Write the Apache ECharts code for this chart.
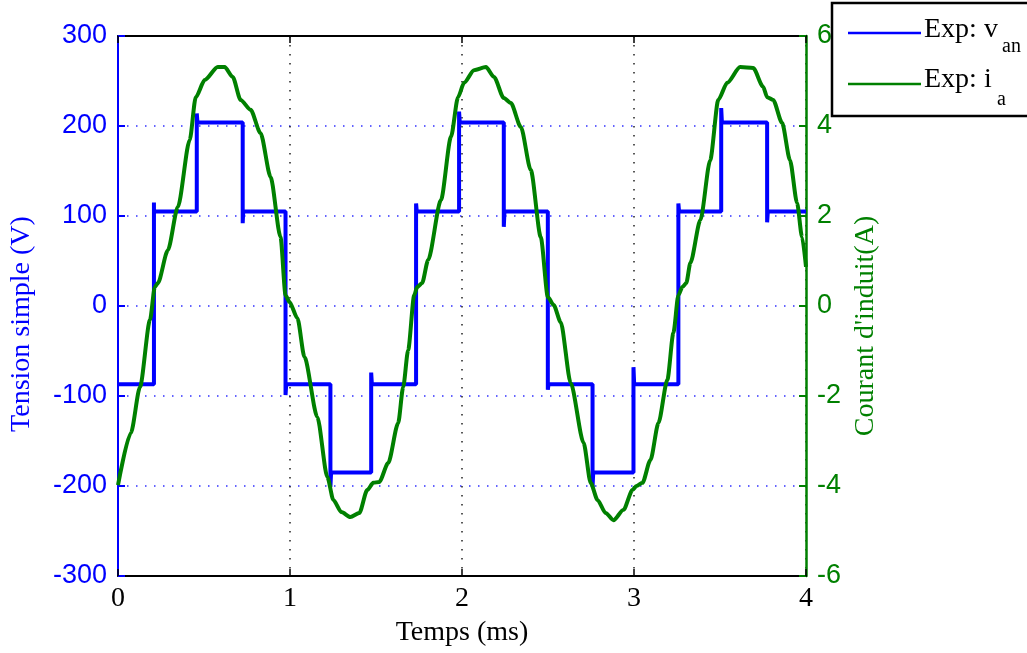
<!DOCTYPE html>
<html>
<head>
<meta charset="utf-8">
<script src="https://cdn.jsdelivr.net/npm/echarts@6/dist/echarts.min.js"></script>
<style>
html,body{margin:0;padding:0;background:#fff;}
#chart{width:1027px;height:653px;}
</style>
</head>
<body>
<div id="chart"></div>
<script>
// Time ticks (ms)
const xTicks = [0, 1, 2, 3, 4];

// Measured phase voltage v_an (V): time (ms) and value
const vTime = [0, 0.209, 0.209, 0.209, 0.458, 0.458, 0.462, 0.725, 0.725, 0.728,
  0.974, 0.974, 0.978, 1.235, 1.235, 1.239, 1.472, 1.472, 1.476, 1.733, 1.733, 1.737,
  1.983, 1.983, 1.987, 2.243, 2.243, 2.247, 2.499, 2.499, 2.503, 2.759, 2.759, 2.763,
  2.997, 2.997, 3.001, 3.258, 3.258, 3.262, 3.507, 3.507, 3.511, 3.774, 3.774, 3.778, 4.0];
const vVolt = [-87, -87, 115, 105, 105, 214, 204, 204, 92, 105,
  105, -99, -87, -87, -201, -185, -185, -74, -87, -87, 114, 105,
  105, 216, 204, 204, 88, 105, 105, -93, -87, -87, -201, -185,
  -185, -68, -87, -87, 114, 105, 105, 220, 204, 204, 93, 105, 105];

// Measured armature current i_a (A): time (ms) and value
const iTime = [0, 0.075, 0.128, 0.186, 0.214, 0.232, 0.29, 0.348, 0.417, 0.452, 0.504, 0.58, 0.62,
  0.667, 0.713, 0.771, 0.829, 0.887, 0.945, 0.974, 0.997, 1.043, 1.084, 1.159, 1.217, 1.252,
  1.299, 1.351, 1.403, 1.449, 1.484, 1.519, 1.571, 1.629, 1.658, 1.687, 1.722, 1.739, 1.768,
  1.803, 1.878, 1.936, 1.977, 2.012, 2.07, 2.139, 2.186, 2.243, 2.284, 2.342, 2.4, 2.458,
  2.499, 2.533, 2.574, 2.632, 2.707, 2.748, 2.788, 2.835, 2.881, 2.939, 2.991, 3.014, 3.049,
  3.096, 3.142, 3.194, 3.229, 3.258, 3.281, 3.304, 3.328, 3.386, 3.443, 3.49, 3.542, 3.617,
  3.693, 3.751, 3.774, 3.809, 3.861, 3.907, 3.948, 3.977, 4.0];
const iAmp = [-3.98, -2.82, -1.8, -0.31, 0.42, 0.51, 1.24, 2.2, 3.69, 4.64, 5.02, 5.31, 5.31,
  5.09, 4.58, 4.36, 3.84, 2.87, 1.53, 0.24, 0.09, -0.27, -1.13, -2.47, -3.8, -4.31,
  -4.58, -4.69, -4.6, -4.09, -3.93, -3.91, -3.49, -2.6, -1.8, -0.98, 0.24, 0.42, 0.51,
  1.02, 2.36, 3.76, 4.64, 4.96, 5.24, 5.31, 5.09, 4.62, 4.51, 3.98, 3.02, 1.53,
  0.2, 0.02, -0.36, -1.71, -3.04, -3.93, -4.31, -4.6, -4.76, -4.53, -4.09, -4.0, -3.93,
  -3.42, -2.6, -1.64, -0.6, 0.24, 0.42, 0.51, 0.96, 1.91, 3.24, 4.58, 4.96, 5.31,
  5.29, 4.87, 4.64, 4.58, 4.07, 3.24, 2.29, 1.53, 0.87];

const legendNames = ['Exp: v', 'Exp: i'];
const legendSubs = ['an', 'a'];

const vData = vTime.map((t, k) => [t, vVolt[k]]);
const iData = iTime.map((t, k) => [t, iAmp[k]]);

const BLUE = '#0000ff';
const GREEN = '#008000';
const SERIF = '"Liberation Serif", "Times New Roman", serif';
const SANS = '"Liberation Sans", Arial, sans-serif';

const chart = echarts.init(document.getElementById('chart'), null, {renderer: 'canvas'});
chart.setOption({
  animation: false,
  backgroundColor: '#fff',
  grid: {left: 116, right: 221, top: 36, bottom: 77, containLabel: false},
  xAxis: [{
    type: 'value', min: 0, max: 4, interval: 1, position: 'bottom',
    name: 'Temps (ms)', nameLocation: 'middle', nameGap: 43,
    nameTextStyle: {fontFamily: SERIF, fontSize: 28, color: '#000'},
    axisLine: {onZero: false, lineStyle: {color: '#000', width: 2}},
    axisTick: {inside: true, length: 7, lineStyle: {color: '#000', width: 1.5}},
    axisLabel: {fontFamily: SERIF, fontSize: 28, color: '#000', margin: 9,
      formatter: v => xTicks.includes(v) ? String(v) : ''},
    splitLine: {show: true, lineStyle: {color: '#222', width: 1.5, type: [1.5, 7.5]}}
  }, {
    type: 'value', min: 0, max: 4, interval: 1, position: 'top',
    axisLine: {onZero: false, lineStyle: {color: '#000', width: 2}},
    axisTick: {inside: true, length: 7, lineStyle: {color: '#000', width: 1.5}},
    axisLabel: {show: false},
    splitLine: {show: false}
  }],
  yAxis: [{
    type: 'value', min: -300, max: 300, interval: 100, position: 'left',
    name: 'Tension simple (V)', nameLocation: 'middle', nameGap: 82,
    nameTextStyle: {fontFamily: SERIF, fontSize: 28, color: BLUE, padding: [0, 36, 0, 0]},
    axisLine: {onZero: false, lineStyle: {color: BLUE, width: 2}},
    axisTick: {inside: true, length: 7, lineStyle: {color: BLUE, width: 2}},
    axisLabel: {fontFamily: SANS, fontSize: 27, color: BLUE, margin: 11, padding: [6, 0, 0, 0]},
    splitLine: {show: true, lineStyle: {color: '#3030ff', width: 1.5, type: [1.5, 7.5]}}
  }, {
    type: 'value', min: -6, max: 6, interval: 2, position: 'right',
    name: "Courant d'induit(A)", nameLocation: 'middle', nameGap: 42,
    nameTextStyle: {fontFamily: SERIF, fontSize: 28, color: GREEN, padding: [0, 40, 0, 0]},
    axisLine: {onZero: false, lineStyle: {color: GREEN, width: 2.5}},
    axisTick: {inside: true, length: 7, lineStyle: {color: GREEN, width: 2}},
    axisLabel: {fontFamily: SANS, fontSize: 27, color: GREEN, margin: 11, padding: [6, 0, 0, 0]},
    splitLine: {show: false}
  }],
  series: [{
    name: 'v_an', type: 'line', xAxisIndex: 0, yAxisIndex: 0, data: vData,
    showSymbol: false, symbol: 'none', z: 3,
    lineStyle: {color: BLUE, width: 4}
  }, {
    name: 'i_a', type: 'line', xAxisIndex: 0, yAxisIndex: 1, data: iData,
    showSymbol: false, symbol: 'none', z: 4, smooth: 0.25, smoothMonotone: 'x',
    lineStyle: {color: GREEN, width: 4}
  }],
  graphic: [
    {type: 'rect', z: 100, shape: {x: 832, y: 3, width: 220, height: 113},
      style: {fill: '#fff', stroke: '#000', lineWidth: 2.5}},
    {type: 'line', z: 101, shape: {x1: 848, y1: 33, x2: 921, y2: 33},
      style: {stroke: BLUE, lineWidth: 2.5}},
    {type: 'line', z: 101, shape: {x1: 848, y1: 84, x2: 921, y2: 84},
      style: {stroke: GREEN, lineWidth: 2.5}},
    {type: 'text', z: 101, x: 924, y: 30,
      style: {text: legendNames[0], fontFamily: SERIF, fontSize: 28, fill: '#000', align: 'left', verticalAlign: 'middle'}},
    {type: 'text', z: 101, x: 1002, y: 47,
      style: {text: legendSubs[0], fontFamily: SERIF, fontSize: 20, fill: '#000', align: 'left', verticalAlign: 'middle'}},
    {type: 'text', z: 101, x: 924, y: 80,
      style: {text: legendNames[1], fontFamily: SERIF, fontSize: 28, fill: '#000', align: 'left', verticalAlign: 'middle'}},
    {type: 'text', z: 101, x: 997, y: 100,
      style: {text: legendSubs[1], fontFamily: SERIF, fontSize: 20, fill: '#000', align: 'left', verticalAlign: 'middle'}}
  ]
});
</script>
</body>
</html>
